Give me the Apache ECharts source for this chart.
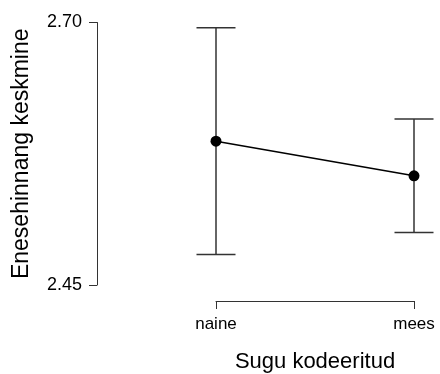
<!DOCTYPE html>
<html>
<head>
<meta charset="utf-8">
<script src="https://cdn.jsdelivr.net/npm/echarts@6/dist/echarts.min.js"></script>
<style>html,body{margin:0;padding:0;background:#fff}#c{width:440px;height:374px}</style>
</head>
<body>
<div id="c"></div>
<script>
var categories = ['naine', 'mees'];
var means = [2.587, 2.554];
var lower = [2.479, 2.500];
var upper = [2.695, 2.608];
var yTicks = [2.45, 2.70];

var chart = echarts.init(document.getElementById('c'), null, {renderer: 'canvas'});
var font = '"Liberation Sans", Arial, sans-serif';
var errData = categories.map(function (c, i) { return [i, lower[i], upper[i]]; });

chart.setOption({
  animation: false,
  grid: {left: 216, right: 26, top: 22.5, bottom: 89, containLabel: false, outerBoundsMode: 'none'},
  xAxis: {
    type: 'category',
    data: categories,
    boundaryGap: false,
    offset: 16,
    axisLine: {show: true, lineStyle: {color: '#333', width: 1}},
    axisTick: {show: true, length: 8, alignWithLabel: true, lineStyle: {color: '#333', width: 1}},
    axisLabel: {color: '#000', fontFamily: font, fontSize: 17, margin: 15},
    splitLine: {show: false},
    name: 'Sugu kodeeritud',
    nameLocation: 'middle',
    nameGap: 50,
    nameTextStyle: {color: '#000', fontFamily: font, fontSize: 22}
  },
  yAxis: {
    type: 'value',
    min: 2.45,
    max: 2.70,
    offset: 119,
    axisLine: {show: true, lineStyle: {color: '#333', width: 1}},
    axisTick: {show: true, length: 8, customValues: yTicks, lineStyle: {color: '#333', width: 1}},
    axisLabel: {color: '#000', fontFamily: font, fontSize: 18, margin: 15, customValues: yTicks,
      formatter: function (v) { return v.toFixed(2); }},
    splitLine: {show: false},
    name: 'Enesehinnang keskmine',
    nameLocation: 'middle',
    nameGap: 64,
    nameTextStyle: {color: '#000', fontFamily: font, fontSize: 23}
  },
  series: [
    {
      type: 'custom',
      clip: false,
      data: errData,
      renderItem: function (params, api) {
        var x = api.value(0);
        var lo = api.coord([x, api.value(1)]);
        var hi = api.coord([x, api.value(2)]);
        var hw = 19.5;
        var st = {stroke: '#333', lineWidth: 1.5};
        return {
          type: 'group',
          children: [
            {type: 'line', shape: {x1: lo[0], y1: lo[1], x2: hi[0], y2: hi[1]}, style: st},
            {type: 'line', shape: {x1: hi[0] - hw, y1: hi[1], x2: hi[0] + hw, y2: hi[1]}, style: st},
            {type: 'line', shape: {x1: lo[0] - hw, y1: lo[1], x2: lo[0] + hw, y2: lo[1]}, style: st}
          ]
        };
      },
      z: 2
    },
    {
      type: 'line',
      data: means,
      symbol: 'circle',
      symbolSize: 11,
      lineStyle: {color: '#000', width: 1.5},
      itemStyle: {color: '#000'},
      z: 3
    }
  ]
});
</script>
</body>
</html>
